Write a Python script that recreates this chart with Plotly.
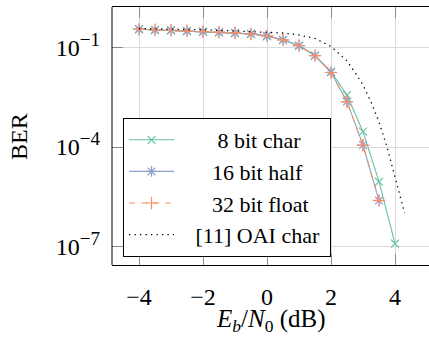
import math
import plotly.graph_objects as go

# ---------------- data ----------------
snr = [-4, -3.5, -3, -2.5, -2, -1.5, -1, -0.5, 0, 0.5, 1, 1.5, 2, 2.5, 3, 3.5, 4]
ber_8bit = [0.36, 0.343, 0.336, 0.32, 0.304, 0.292, 0.278, 0.259, 0.222, 0.170, 0.114,
            0.0570, 0.0188, 3.7e-3, 2.9e-4, 9.0e-6, 1.2e-7]
snr_16 = [-4, -3.5, -3, -2.5, -2, -1.5, -1, -0.5, 0, 0.5, 1, 1.5, 2, 2.5, 3, 3.5]
ber_16bit = [0.362, 0.345, 0.337, 0.322, 0.306, 0.294, 0.280, 0.262, 0.228, 0.173, 0.116,
             0.058, 0.0180, 2.35e-3, 1.15e-4, 2.4e-6]
snr_32 = [-4, -3.5, -3, -2.5, -2, -1.5, -1, -0.5, 0, 0.5, 1, 1.5, 2, 2.5, 3, 3.5]
ber_32bit = [0.362, 0.345, 0.337, 0.322, 0.306, 0.294, 0.280, 0.262, 0.228, 0.173, 0.116,
             0.058, 0.0178, 2.3e-3, 1.12e-4, 2.45e-6]
snr_oai = [-4, -3, -2, -1, 0, 0.5, 1, 1.5, 2, 2.25, 2.5, 2.75, 3, 3.25, 3.5, 3.75, 4, 4.25, 4.3]
ber_oai = [0.38, 0.367, 0.347, 0.32, 0.298, 0.278, 0.242, 0.19, 0.109, 0.0645, 0.0398,
           0.0178, 7.5e-3, 2.3e-3, 5.7e-4, 1.0e-4, 1.3e-5, 1.8e-6, 1.0e-6]

x_ticks = [-4, -2, 0, 2, 4]
y_ticks = [1e-7, 1e-4, 1e-1]
y_exps = ["\u22127", "\u22124", "\u22121"]
names = ["8 bit char", "16 bit half", "32 bit float", "[11] OAI char"]
x_title = "<i>E<sub>b</sub></i>/<i>N</i><sub>0</sub> (dB)"
y_title = "BER"

TEAL = "#66c2a5"
BLUE = "#8da0cb"
ORANGE = "#fc8d62"
FONT = "Liberation Serif"
FS = 24
LFS = 22
GRID = "#dadada"
TICKC = "#8a8a8a"

NB = "\u00a0"
pads = [7, 6, 6, 3]
tail = [0, 0, 0, 1]
legend_names = [NB * p + n + NB * t for p, n, t in zip(pads, names, tail)]
y_ticktext = ["10<sup><span style='font-size:19px'>%s</span></sup>" % e for e in y_exps]

fig = go.Figure()
fig.add_trace(go.Scatter(
    x=snr, y=ber_8bit, mode="lines+markers", name=legend_names[0],
    line=dict(color=TEAL, width=1.1),
    marker=dict(symbol="x-thin-open", size=8, line=dict(color=TEAL, width=1.2))))
fig.add_trace(go.Scatter(
    x=snr_16, y=ber_16bit, mode="lines+markers", name=legend_names[1],
    line=dict(color=BLUE, width=1.1),
    marker=dict(symbol="asterisk-open", size=9, line=dict(color=BLUE, width=1.2))))
fig.add_trace(go.Scatter(
    x=snr_32, y=ber_32bit, mode="lines+markers", name=legend_names[2],
    line=dict(color=ORANGE, width=1.1, dash="6px,6px"),
    marker=dict(symbol="cross-thin-open", size=9, line=dict(color=ORANGE, width=1.2))))
fig.add_trace(go.Scatter(
    x=snr_oai, y=ber_oai, mode="lines", name=legend_names[3],
    line=dict(color="black", width=1.3, dash="1.3px,4.2px")))

L, R, T, B = 112, 0, 7, 80
W, H = 429, 345
pw = W - L - R
ph = H - T - B
TL = 11

fig.update_layout(
    width=W, height=H,
    margin=dict(l=L, r=R, t=T, b=B, pad=0, autoexpand=False),
    paper_bgcolor="white", plot_bgcolor="white",
    font=dict(family=FONT, size=FS, color="black"),
    showlegend=True,
    legend=dict(
        x=(123 - L) / pw, y=(265 - 257) / ph, xanchor="left", yanchor="bottom",
        bgcolor="white", bordercolor="black", borderwidth=1,
        font=dict(family=FONT, size=LFS, color="black"),
        itemwidth=45, tracegroupgap=0,
    ),
)
fig.update_xaxes(
    range=[-4.844, 5.0625], tickvals=x_ticks, automargin=False,
    showgrid=True, gridcolor=GRID, gridwidth=1,
    showline=True, linecolor="black", linewidth=1, mirror="ticks",
    ticks="inside", ticklen=TL, tickcolor=TICKC, tickwidth=1.2,
    zeroline=False, ticklabelstandoff=10,
    tickfont=dict(family=FONT, size=FS),
)
fig.update_yaxes(
    type="log", range=[-7.565, 0.2296], tickvals=y_ticks, ticktext=y_ticktext,
    automargin=False,
    showgrid=True, gridcolor=GRID, gridwidth=1,
    showline=False, mirror=False,
    ticks="inside", ticklen=TL, tickcolor=TICKC, tickwidth=1.2,
    zeroline=False, ticklabelstandoff=11,
    tickfont=dict(family=FONT, size=FS),
)
# left axis border line
fig.add_shape(type="line", xref="paper", yref="paper", x0=0, x1=0, y0=0, y1=1,
              line=dict(color="black", width=1))
# mirrored ticks on the right side
for v in y_ticks:
    lv = math.log10(v)
    fig.add_shape(type="line", xref="paper", yref="y", x0=1 - TL / pw, x1=1,
                  y0=lv, y1=lv, line=dict(color=TICKC, width=1.2))

# axis titles
fig.add_annotation(text=x_title, xref="paper", yref="paper",
                   x=(271 - L) / pw, y=(265 - 320) / ph, xanchor="center", yanchor="middle",
                   showarrow=False, font=dict(family=FONT, size=25))
fig.add_annotation(text=y_title, xref="paper", yref="paper", textangle=-90,
                   x=(19 - L) / pw, y=(265 - 137) / ph, xanchor="center", yanchor="middle",
                   showarrow=False, font=dict(family=FONT, size=FS))

fig.write_html(
    "out.html",
    config={"displayModeBar": False},
    post_script="document.body.style.margin='0';document.body.style.overflow='hidden';",
)
